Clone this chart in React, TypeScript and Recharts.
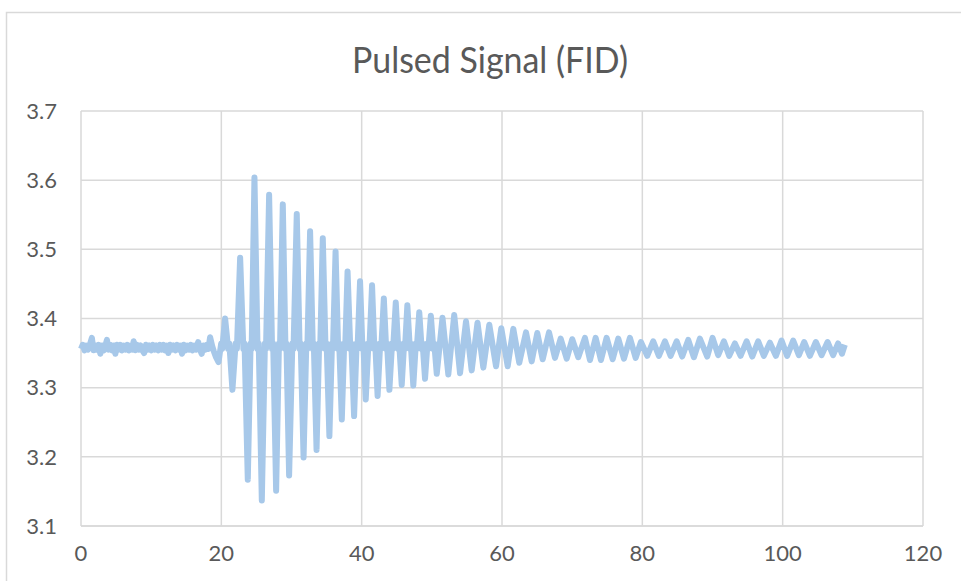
import React from 'react';
import { LineChart, Line, XAxis, YAxis, CartesianGrid } from 'recharts';

const xTicks = [0, 20, 40, 60, 80, 100, 120];
const yTicks = [3.1, 3.2, 3.3, 3.4, 3.5, 3.6, 3.7];

// time (x) , voltage (y) pairs
const preTrigger: [number, number][] = [
  [0, 3.356], [0.25, 3.362], [0.5, 3.354], [0.75, 3.361], [1.0, 3.355], [1.25, 3.362],
  [1.55, 3.372], [1.8, 3.354], [2.0, 3.361], [2.25, 3.355], [2.5, 3.362], [2.75, 3.349],
  [3.0, 3.361], [3.25, 3.354], [3.5, 3.362], [3.7, 3.369], [3.95, 3.355], [4.2, 3.362],
  [4.45, 3.354], [4.65, 3.361], [4.9, 3.349], [5.1, 3.362], [5.35, 3.355], [5.6, 3.362],
  [5.85, 3.354], [6.1, 3.361], [6.35, 3.355], [6.6, 3.362], [6.85, 3.354], [7.1, 3.361],
  [7.3, 3.355], [7.5, 3.367], [7.75, 3.354], [8.0, 3.362], [8.25, 3.355], [8.5, 3.361],
  [8.75, 3.354], [9.0, 3.35], [9.25, 3.362], [9.5, 3.355], [9.75, 3.361], [10.0, 3.354],
  [10.25, 3.362], [10.5, 3.355], [10.75, 3.361], [11.0, 3.354], [11.25, 3.362], [11.5, 3.355],
  [11.75, 3.362], [12.0, 3.354], [12.25, 3.361], [12.45, 3.35], [12.7, 3.362], [12.95, 3.355],
  [13.2, 3.361], [13.45, 3.354], [13.7, 3.362], [13.95, 3.355], [14.15, 3.361], [14.4, 3.349],
  [14.65, 3.362], [14.9, 3.354], [15.15, 3.361], [15.4, 3.355], [15.65, 3.362], [15.9, 3.354],
  [16.15, 3.361], [16.4, 3.355], [16.7, 3.366], [16.95, 3.355], [17.2, 3.349], [17.45, 3.361],
  [17.7, 3.355], [17.95, 3.362], [18.15, 3.356], [18.4, 3.373], [18.7, 3.36], [18.95, 3.352],
  [19.2, 3.345], [19.6, 3.337],
];

const burst: [number, number][] = [
  [19.98, 3.364], [20.12, 3.356], [20.54, 3.4],
  [20.98, 3.356], [21.14, 3.364], [21.58, 3.297],
  [22.04, 3.364], [22.22, 3.356], [22.68, 3.488],
  [23.14, 3.356], [23.31, 3.364], [23.77, 3.167],
  [24.17, 3.364], [24.32, 3.356], [24.72, 3.604],
  [25.16, 3.356], [25.33, 3.364], [25.77, 3.137],
  [26.21, 3.364], [26.37, 3.356], [26.81, 3.579],
  [27.23, 3.356], [27.39, 3.364], [27.81, 3.151],
  [28.21, 3.364], [28.36, 3.356], [28.76, 3.565],
  [29.14, 3.356], [29.28, 3.364], [29.66, 3.173],
  [30.12, 3.364], [30.29, 3.356], [30.75, 3.551],
  [31.16, 3.356], [31.31, 3.364], [31.72, 3.199],
  [32.11, 3.364], [32.26, 3.356], [32.65, 3.526],
  [33.04, 3.356], [33.18, 3.364], [33.57, 3.21],
  [33.94, 3.364], [34.09, 3.356], [34.46, 3.516],
  [34.85, 3.356], [35.01, 3.364], [35.4, 3.23],
  [35.77, 3.364], [35.91, 3.356], [36.28, 3.497],
  [36.65, 3.356], [36.8, 3.364], [37.17, 3.254],
  [37.51, 3.364], [37.65, 3.356], [37.99, 3.468],
  [38.38, 3.356], [38.53, 3.364], [38.92, 3.259],
  [39.28, 3.364], [39.41, 3.356], [39.77, 3.454],
  [40.11, 3.356], [40.24, 3.364], [40.58, 3.283],
  [40.96, 3.364], [41.1, 3.356], [41.48, 3.448],
  [41.81, 3.356], [41.94, 3.364], [42.27, 3.288],
  [42.64, 3.364], [42.79, 3.356], [43.16, 3.429],
  [43.49, 3.356], [43.62, 3.364], [43.95, 3.297],
  [44.33, 3.364], [44.48, 3.356], [44.86, 3.423],
  [45.22, 3.356], [45.35, 3.364], [45.71, 3.304],
  [46.05, 3.364], [46.17, 3.356], [46.51, 3.419],
  [46.87, 3.356], [47.0, 3.364], [47.36, 3.303],
  [47.72, 3.364], [47.85, 3.356], [48.21, 3.409],
  [48.55, 3.356], [48.69, 3.364], [49.03, 3.313],
  [49.38, 3.364], [49.51, 3.356], [49.86, 3.404],
  [50.21, 3.356], [50.35, 3.364], [50.7, 3.32],
];

const decay: [number, number][] = [
  [51.52, 3.401], [52.35, 3.319], [53.19, 3.405], [54.02, 3.321], [54.87, 3.396],
  [55.68, 3.325], [56.51, 3.394], [57.34, 3.329], [58.19, 3.391], [59.15, 3.331],
  [59.9, 3.386], [60.81, 3.331], [61.61, 3.385], [62.46, 3.336], [63.42, 3.38],
  [64.23, 3.338], [65.03, 3.379], [65.8, 3.341], [66.7, 3.38], [67.55, 3.343],
  [68.36, 3.371], [69.22, 3.342], [70.01, 3.37], [70.87, 3.344],
];

const tail: [number, number][] = [
  [71.82, 3.372], [72.54, 3.34], [73.35, 3.372], [74.1, 3.34], [74.91, 3.372],
  [75.77, 3.341], [76.57, 3.371], [77.38, 3.342], [78.23, 3.372], [79.05, 3.343],
  [79.8, 3.366], [80.7, 3.346], [81.55, 3.367], [82.36, 3.346], [83.22, 3.367],
  [84.03, 3.346], [84.89, 3.367], [85.68, 3.345], [86.54, 3.369], [87.35, 3.344],
  [88.2, 3.371], [89.25, 3.345], [90.01, 3.372], [90.81, 3.347], [91.62, 3.367],
  [92.38, 3.346], [93.19, 3.364], [94.0, 3.346], [94.86, 3.367], [95.66, 3.345],
  [96.51, 3.367], [97.32, 3.346], [98.18, 3.365], [99.03, 3.346], [99.84, 3.368],
  [100.64, 3.346], [101.5, 3.368], [102.31, 3.347], [103.06, 3.366], [103.88, 3.346],
  [104.73, 3.366], [105.54, 3.347], [106.4, 3.366], [107.19, 3.347], [107.9, 3.364],
  [108.45, 3.349], [108.86, 3.362],
];

const data = [...preTrigger, ...burst, ...decay, ...tail].map(([t, v]) => ({ t, v }));

const FONT = "Lato, 'Liberation Sans', sans-serif";
const TEXT = '#595959';
const GRID = '#D9D9D9';

export default function App() {
  return (
    <div style={{ position: 'absolute', left: 0, top: 0, width: 961, height: 581, overflow: 'hidden', background: '#fff' }}>
      <svg width={961} height={581} style={{ position: 'absolute', left: 0, top: 0 }}>
        <rect x={6.5} y={12.5} width={1000} height={1000} fill="#fff" stroke={GRID} strokeWidth={1.5} />
      </svg>
      <div style={{ position: 'absolute', left: 0, top: 0 }}>
        <LineChart width={961} height={581} data={data} margin={{ top: 111, right: 38, bottom: 25, left: 21 }}>
          <CartesianGrid stroke={GRID} strokeWidth={1.5} />
          <XAxis
            type="number"
            dataKey="t"
            domain={[0, 120]}
            ticks={xTicks}
            interval={0}
            tickLine={false}
            axisLine={{ stroke: GRID, strokeWidth: 1.5 }}
            tick={{ fill: TEXT, fontSize: 22, fontFamily: FONT }}
            tickMargin={13}
            height={30}
          />
          <YAxis
            type="number"
            domain={[3.1, 3.7]}
            ticks={yTicks}
            interval={0}
            tickFormatter={(v: number) => v.toFixed(1)}
            tickLine={false}
            axisLine={false}
            tick={{ fill: TEXT, fontSize: 22, fontFamily: FONT }}
            tickMargin={18}
            width={60}
          />
          <Line
            type="linear"
            dataKey="v"
            stroke="#A7C8E9"
            strokeWidth={6}
            strokeLinejoin="round"
            dot={false}
            isAnimationActive={false}
          />
        </LineChart>
      </div>
      <svg width={961} height={581} style={{ position: 'absolute', left: 0, top: 0, pointerEvents: 'none' }}>
        <text x={490} y={73} textAnchor="middle" fill={TEXT} fontSize={36} fontFamily={FONT} textLength={276} lengthAdjust="spacingAndGlyphs">
          Pulsed Signal (FID)
        </text>
      </svg>
    </div>
  );
}
